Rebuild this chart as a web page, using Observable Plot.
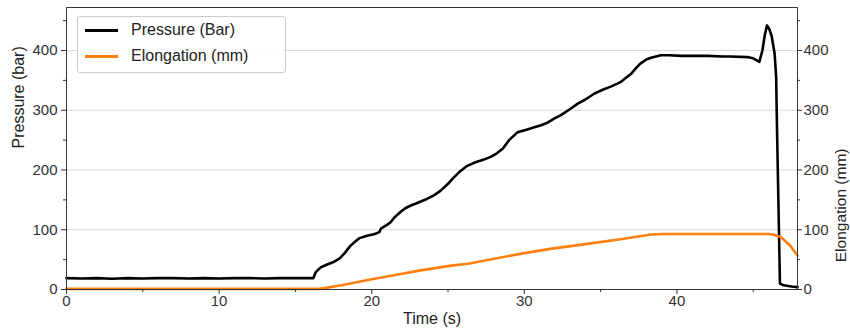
<!DOCTYPE html>
<html>
<head>
<meta charset="utf-8">
<script src="https://cdn.jsdelivr.net/npm/d3@7"></script>
<script src="https://cdn.jsdelivr.net/npm/@observablehq/plot@0.6"></script>
<style>
  html, body { margin: 0; padding: 0; background: white; }
  #wrap { position: relative; width: 850px; height: 331px; font-family: "Liberation Sans", Arial, sans-serif; }
  #legend { position: absolute; left: 77px; top: 16px; width: 207px; height: 55px; border: 1px solid #cccccc; border-radius: 3px; background: rgba(255,255,255,0.85); }
  .row { position: absolute; left: 0; height: 20px; width: 100%; }
  .swatch { position: absolute; left: 7px; width: 33px; height: 3px; }
  .lab { position: absolute; left: 53px; font-size: 16px; color: #222; white-space: nowrap; }
</style>
</head>
<body>
<div id="wrap"></div>
<script>
// Time axis and pressure series (black)
const pressureTime = [0,1,2,3,4,5,6,7,8,9,10,11,12,13,14,15,16,16.17,16.33,16.66,17.0,17.5,17.9,18.2,18.6,18.9,19.2,19.7,20.2,20.5,20.6,21.0,21.25,21.5,21.9,22.2,22.6,22.9,23.65,24.1,24.5,25.0,25.4,25.8,26.2,26.7,27.3,27.8,28.2,28.6,29.0,29.55,30.2,30.6,31.1,31.5,31.95,32.4,33.05,33.5,34.0,34.6,35.1,35.7,36.3,36.6,37.0,37.3,37.6,38.0,38.3,38.95,39.5,40.3,41,42,43,43.5,44.6,45.0,45.4,45.6,45.75,45.9,46.05,46.2,46.4,46.5,46.56,46.75,47.0,47.5,47.9];
const pressureBar = [19,18.5,19,18,19,18.5,19,19,18.5,19,18.5,19,19,18.5,19,19,19,19,29,37,41,46,52,60,73,80,86,90,93,96,102,108,113,121,130,136,141,144,152,158,165,177,188,198,206,212,217,222,228,236,250,263,268,271,275,279,286,292,303,311,318,328,334,340,347,353,361,370,378,385,388,392,392,391,391,391,390,390,389,387,381,400,425,442,436,425,395,356,266,10,7,5,4];

// Elongation series (orange)
const elongTime = [0,16.6,18,20,21.9,23.2,25.2,26.3,29.8,31.7,34,36.3,38.3,39.1,46.0,46.3,46.8,47.4,47.9];
const elongMm = [1,1,7,17,26,32,40,43,60,68,76,84,92,93,93,92,88,74,57];

// Tick values
const xTicks = [0,10,20,30,40];
const xMinor = [5,15,25,35,45];
const yTicks = [0,100,200,300,400];
const yMinor = [50,150,250,350,450];

const pressureData = pressureTime.map((t,i) => ({t, v: pressureBar[i]}));
const elongData = elongTime.map((t,i) => ({t, v: elongMm[i]}));

const font = "'Liberation Sans', Arial, sans-serif";
const chart = Plot.plot({
  width: 850, height: 331,
  marginLeft: 66, marginRight: 53, marginTop: 7, marginBottom: 42,
  style: {fontFamily: font, fontSize: "15px", background: "white", color: "#333"},
  x: {domain: [0, 47.9]},
  y: {domain: [0, 472]},
  marks: [
    Plot.gridY(yTicks.filter(d => d > 0), {stroke: "#d9d9d9", strokeOpacity: 1, strokeWidth: 1}),
    Plot.line(pressureData, {x: "t", y: "v", stroke: "black", strokeWidth: 2.6, strokeLinejoin: "round"}),
    Plot.line(elongData, {x: "t", y: "v", stroke: "#ff7f0e", strokeWidth: 2.6, strokeLinejoin: "round"}),
    Plot.frame({stroke: "#333", strokeWidth: 1}),
    Plot.axisX(xTicks, {anchor: "bottom", tickSize: 5, tickPadding: 1, label: null, fontSize: 15, stroke: "#333"}),
    Plot.axisX(xMinor, {anchor: "bottom", tickSize: 3, tickFormat: () => "", label: null, stroke: "#333"}),
    Plot.axisY(yTicks, {anchor: "left", tickSize: 5, tickPadding: 4, label: null, fontSize: 15, stroke: "#333"}),
    Plot.axisY(yMinor, {anchor: "left", tickSize: 3, tickFormat: () => "", label: null, stroke: "#333"}),
    Plot.axisY(yTicks, {anchor: "right", tickSize: 4, tickPadding: 2, label: null, fontSize: 15, stroke: "#333"}),
    Plot.axisY(yMinor, {anchor: "right", tickSize: 2, tickFormat: () => "", label: null, stroke: "#333"}),
    Plot.text(["Pressure (bar)"], {frameAnchor: "left", dx: -48, rotate: -90, fontSize: 16, fill: "#222"}),
    Plot.text(["Elongation (mm)"], {frameAnchor: "right", dx: 44, rotate: -90, fontSize: 15.5, lineAnchor: "middle", fill: "#222"}),
    Plot.text(["Time (s)"], {frameAnchor: "bottom", dy: 29, lineAnchor: "middle", fontSize: 16, fill: "#222"})
  ]
});
const wrap = document.getElementById("wrap");
wrap.appendChild(chart);

// Legend overlay
const series = [
  {name: "Pressure (Bar)", color: "black"},
  {name: "Elongation (mm)", color: "#ff7f0e"}
];
const legend = document.createElement("div");
legend.id = "legend";
series.forEach((s, i) => {
  const row = document.createElement("div");
  row.className = "row";
  row.style.top = (4 + i * 26) + "px";
  const sw = document.createElement("div");
  sw.className = "swatch";
  sw.style.background = s.color;
  sw.style.top = "8px";
  const lab = document.createElement("div");
  lab.className = "lab";
  lab.style.top = "0px";
  lab.textContent = s.name;
  row.appendChild(sw);
  row.appendChild(lab);
  legend.appendChild(row);
});
wrap.appendChild(legend);
</script>
</body>
</html>
